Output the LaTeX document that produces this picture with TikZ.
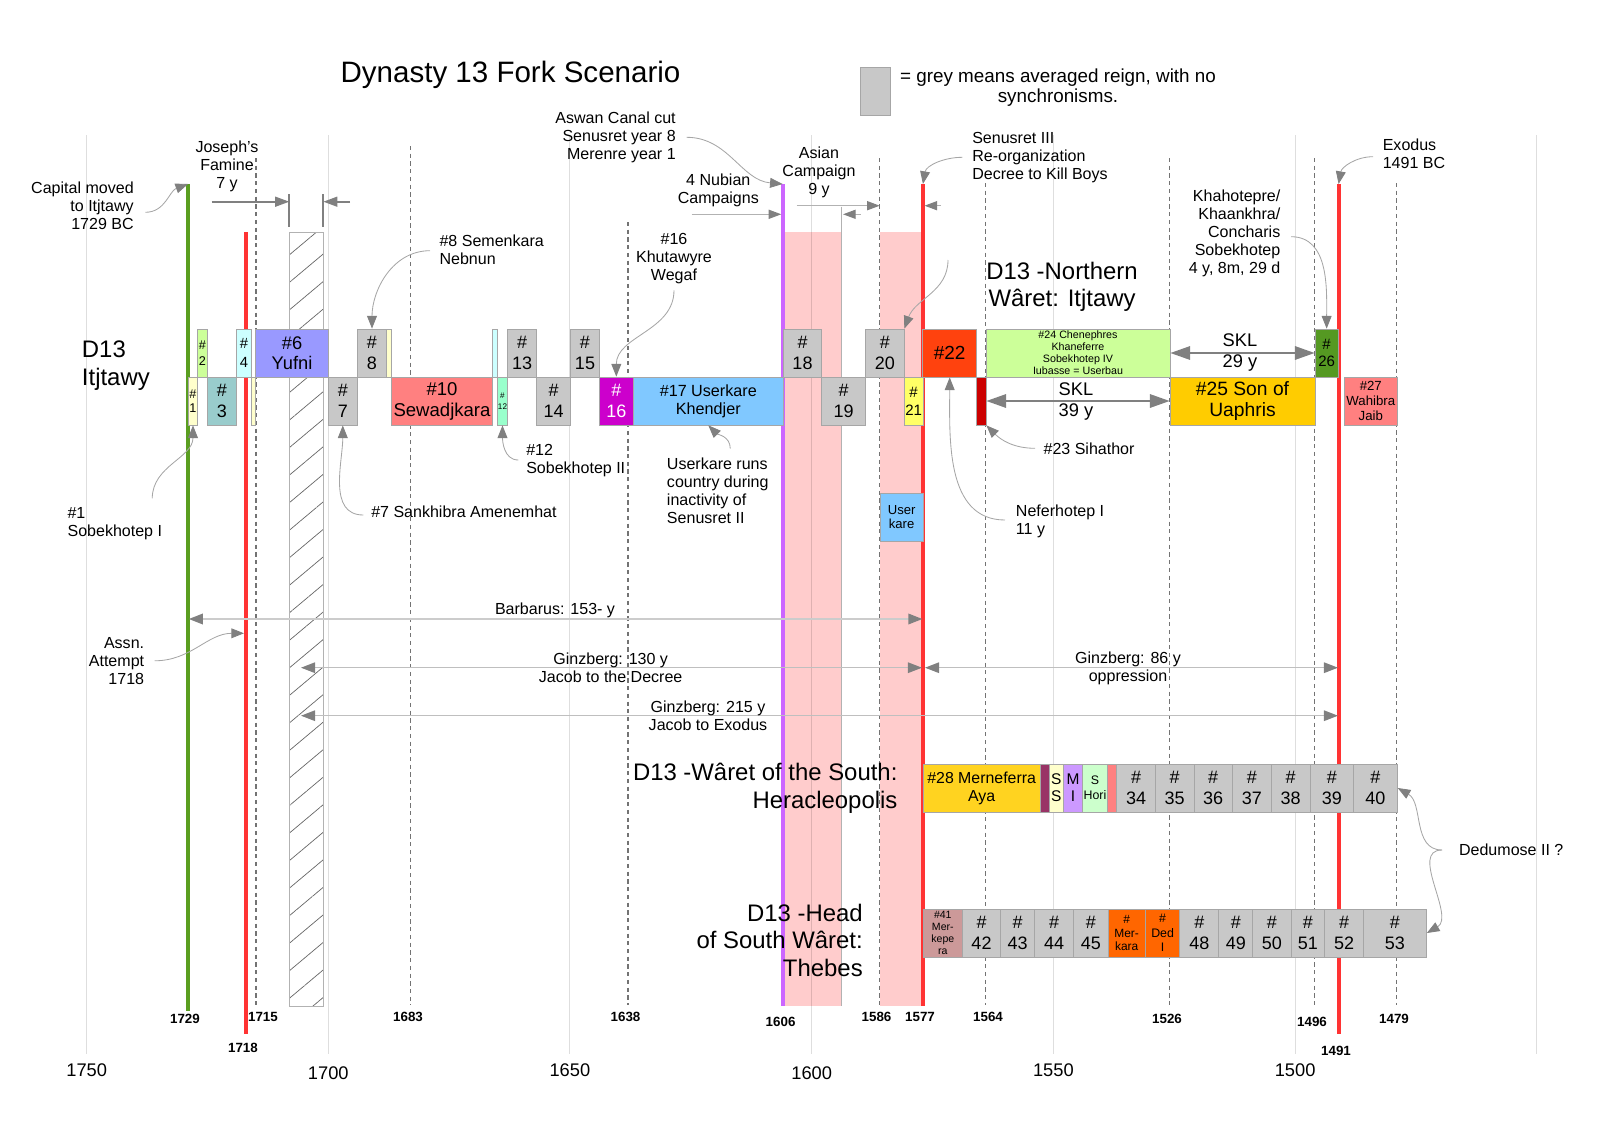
\documentclass[tikz,border=0pt]{standalone}
\usepackage{fontspec}
\setmainfont{Liberation Sans}
\usetikzlibrary{arrows.meta,patterns.meta}

\definecolor{avgrey}{HTML}{C8C8C8}
\definecolor{barred}{HTML}{FF3333}
\definecolor{bargreen}{HTML}{5A9E20}
\definecolor{barpurple}{HTML}{CC66FF}
\definecolor{barpink}{HTML}{FFCCCC}
\definecolor{palegreen}{HTML}{CCFF99}
\definecolor{palecyan}{HTML}{CCFFFF}
\definecolor{paleyellow}{HTML}{FFFFCC}
\definecolor{periwinkle}{HTML}{9999FF}
\definecolor{flame}{HTML}{FF420E}
\definecolor{leafgreen}{HTML}{559922}
\definecolor{tealgrey}{HTML}{99CCCC}
\definecolor{salmon}{HTML}{FF8080}
\definecolor{mint}{HTML}{99FFCC}
\definecolor{fuchsia}{HTML}{CC00CC}
\definecolor{skyblue}{HTML}{80C8FF}
\definecolor{lemon}{HTML}{FFFF66}
\definecolor{darkred}{HTML}{CC0000}
\definecolor{amber}{HTML}{FFCC00}
\definecolor{gold}{HTML}{FFD320}
\definecolor{plum}{HTML}{993366}
\definecolor{lilac}{HTML}{CC99FF}
\definecolor{mintgreen}{HTML}{CCFFCC}
\definecolor{rosybrown}{HTML}{CC9999}
\definecolor{tangerine}{HTML}{FF6600}

\tikzset{
  fs/.style 2 args={font=\fontsize{#1}{#2}\selectfont},
  reign/.style={draw=black!35, line width=0.5pt, inner sep=0pt, align=center, minimum height=1.2cm, fs={12.8}{14.5}},
  note/.style={inner sep=0pt, fs={11.4}{12.8}},
  region/.style={inner sep=0pt, fs={17}{19.5}},
  yearlab/.style={inner sep=0pt, font=\fontsize{9.5}{11}\selectfont\bfseries},
  axislab/.style={inner sep=0pt, fs={13}{15}},
  gridln/.style={draw=black, draw opacity=0.13, line width=0.7pt},
  dashln/.style={draw=black!55, line width=1pt, dash pattern=on 3pt off 2.5pt},
  vbar/.style={draw=#1, line width=2.8pt},
  link/.style={draw=black!35, line width=0.6pt, -{Triangle[length=9pt,width=7pt,color=black!50]}},
  span/.style={draw=black!50, line width=1.3pt, -{Triangle[length=10pt,width=7pt]}},
  thinspan/.style={draw=black!30, line width=0.8pt, -{Triangle[length=9pt,width=6.5pt,color=black!50]}},
  period/.style={draw=black!25, line width=0.9pt, {Triangle[length=10pt,width=7.5pt,color=black!50]}-{Triangle[length=10pt,width=7.5pt,color=black!50]}},
  skl/.style={draw=black!50, line width=1.4pt, {Triangle[length=14pt,width=9.5pt]}-{Triangle[length=14pt,width=9.5pt]}},
}
% reign box: [options]{name}{left}{right}{row centre}{fill}{text}
\newcommand{\reign}[7][]{\node[reign,fill=#6,minimum width={(#4-#3)*0.025cm},#1] (#2) at ({(#3+#4)/2},#5) {#7};}

\begin{document}
\begin{tikzpicture}[x=0.025cm,y=-0.025cm]
  \useasboundingbox (0,0) rectangle (1600,1131);
  % campaign bars
  \fill[barpink] (782.7,232) rectangle (841.7,1006);
  \fill[barpink] (880,232) rectangle (922.9,1006);
  % every 50 years
  \draw[gridln] (86.6,135)--(86.6,1054); \draw[gridln] (328.3,135)--(328.3,1054);
  \draw[gridln] (569.9,135)--(569.9,1054); \draw[gridln] (811.7,135)--(811.7,1054);
  \draw[gridln] (1053.4,135)--(1053.4,1054); \draw[gridln] (1295.1,135)--(1295.1,1054);
  \draw[gridln] (1536.8,135)--(1536.8,1054);
  % dated years
  \draw[dashln] (255.8,158)--(255.8,1005); \draw[dashln] (410.5,146)--(410.5,1005);
  \draw[dashln] (628,222)--(628,1005); \draw[dashln] (879.7,158)--(879.7,1005);
  \draw[dashln] (985.7,183)--(985.7,1005); \draw[dashln] (1169.4,158)--(1169.4,1005);
  \draw[dashln] (1314.4,158)--(1314.4,1005); \draw[dashln] (1396.6,183)--(1396.6,1005);
  % famine
  \draw[draw=black!30,line width=0.6pt,pattern={Lines[angle=40,distance=15pt,line width=0.5pt]},pattern color=black!60] (289.3,232) rectangle (323.3,1006);
  \draw[black!30,line width=0.6pt] (841.7,206.7)--(841.7,1006);
  % event lines
  \draw[vbar=bargreen] (188.1,184)--(188.1,1011);
  \draw[vbar=barred] (246,232)--(246,1034);
  \draw[vbar=barpurple] (782.7,184)--(782.7,1006);
  \draw[vbar=barred] (922.9,184)--(922.9,1006);
  \draw[vbar=barred] (1338.6,184)--(1338.6,1034);
  \coordinate (captop) at (188.1,184); \coordinate (nubtop) at (782.7,184);
  \coordinate (senutop) at (922.9,184); \coordinate (exotop) at (1338.6,184);
  \coordinate (assnpt) at (244,633.3); \coordinate (loose) at (948,260);

  % D13 Itjtawy, upper row
  \reign[fs={9}{11.5}]{k2}{197.7}{207.3}{353}{palegreen}{\#\\2}
  \reign[fs={10.5}{13}]{k4}{236.7}{251.3}{353}{palecyan}{\#\\4}
  \reign[fs={13}{14.5}]{k6}{255.7}{328.3}{353}{periwinkle}{\#6\\Yufni}
  \reign{k8}{357.3}{386.7}{353}{avgrey}{\#\\8}
  \reign{k9}{386.7}{391.3}{353}{paleyellow}{}
  \reign{k11}{492.7}{497.3}{353}{palecyan}{}
  \reign{k13}{507.7}{536.7}{353}{avgrey}{\#\\13}
  \reign{k15}{570.7}{599.3}{353}{avgrey}{\#\\15}
  \reign{k18}{783.3}{821.7}{353}{avgrey}{\#\\18}
  \reign{k20}{865.7}{904}{353}{avgrey}{\#\\20}
  \reign[fs={13.5}{15}]{k22}{922.7}{976.7}{353}{flame}{\#22}
  \reign[fs={7.6}{8.6}]{k24}{986}{1170}{353}{palegreen}{\#24 Chenephres\\Khaneferre\\Sobekhotep IV\\Iubasse = Userbau}
  \reign[fs={10.7}{12.6}]{k26}{1315}{1338.3}{353}{leafgreen}{\#\\26}
  % D13 Itjtawy, lower row
  \reign[fs={9}{10}]{k1}{188.3}{197.7}{401}{paleyellow}{\#\\1}
  \reign{k3}{207.3}{236.7}{401}{tealgrey}{\#\\3}
  \reign{k5}{251.3}{255.7}{401}{paleyellow}{}
  \reign{k7}{328.3}{357.3}{401}{avgrey}{\#\\7}
  \reign[fs={13.2}{15}]{k10}{391.3}{492.7}{401}{salmon}{\#10\\Sewadjkara}
  \reign[fs={5.8}{7.8}]{k12}{497.3}{507.7}{401}{mint}{\#\\12}
  \reign{k14}{536.7}{570.7}{401}{avgrey}{\#\\14}
  \reign[text=white]{k16}{599.3}{633.3}{401}{fuchsia}{\#\\16}
  \reign[fs={11.5}{12.6}]{k17}{633.3}{783.3}{401}{skyblue}{\#17 Userkare\\Khendjer}
  \reign{k19}{821.7}{865.7}{401}{avgrey}{\#\\19}
  \reign[fs={10.7}{12.6}]{k21}{904}{923.3}{401}{lemon}{\#\\21}
  \reign{k23}{976.7}{986}{401}{darkred}{}
  \reign[fs={13.7}{15}]{k25}{1170}{1315}{401}{amber}{\#25 Son of\\Uaphris}
  \reign[fs={9.4}{10.5}]{k27}{1344.3}{1397.3}{401}{salmon}{\#27\\Wahibra\\Jaib}
  \reign[fs={9.3}{10.4}]{ku}{880}{923.3}{517}{skyblue}{User\\kare}
  % Heracleopolis row
  \reign[fs={11.3}{12.8}]{k28}{923.3}{1040}{788}{gold}{\#28 Merneferra\\Aya}
  \reign{k29}{1040}{1049.3}{788}{plum}{}
  \reign[fs={11}{12.3}]{k30}{1049.3}{1063.3}{788}{paleyellow}{S\\S}
  \reign[fs={11}{12.3}]{k31}{1063.3}{1082.6}{788}{lilac}{M\\I}
  \reign[fs={8.8}{10.7}]{k32}{1082.6}{1107.2}{788}{mintgreen}{S\\Hori}
  \reign{k33}{1107.2}{1116.7}{788}{salmon}{}
  \reign{k34}{1116.7}{1155.3}{788}{avgrey}{\#\\34}
  \reign{k35}{1155.3}{1193.9}{788}{avgrey}{\#\\35}
  \reign{k36}{1193.9}{1232.5}{788}{avgrey}{\#\\36}
  \reign{k37}{1232.5}{1271}{788}{avgrey}{\#\\37}
  \reign{k38}{1271}{1310.4}{788}{avgrey}{\#\\38}
  \reign{k39}{1310.4}{1353.5}{788}{avgrey}{\#\\39}
  \reign{k40}{1353.5}{1397.4}{788}{avgrey}{\#\\40}
  % Thebes row
  \reign[fs={7.5}{8.5}]{k41}{923.3}{962.3}{933}{rosybrown}{\#41\\Mer-\\kepe\\ra}
  \reign{k42}{962.3}{1000.7}{933}{avgrey}{\#\\42}
  \reign{k43}{1000.7}{1034.7}{933}{avgrey}{\#\\43}
  \reign{k44}{1034.7}{1073.7}{933}{avgrey}{\#\\44}
  \reign{k45}{1073.7}{1107.9}{933}{avgrey}{\#\\45}
  \reign[fs={8.5}{9.5}]{k46}{1107.9}{1145.4}{933}{tangerine}{\#\\Mer-\\kara}
  \reign[fs={8.8}{10.3}]{k47}{1145.4}{1179.8}{933}{tangerine}{\#\\Ded\\I}
  \reign{k48}{1179.8}{1218.8}{933}{avgrey}{\#\\48}
  \reign{k49}{1218.8}{1252.8}{933}{avgrey}{\#\\49}
  \reign{k50}{1252.8}{1291}{933}{avgrey}{\#\\50}
  \reign{k51}{1291}{1324.7}{933}{avgrey}{\#\\51}
  \reign{k52}{1324.7}{1363.3}{933}{avgrey}{\#\\52}
  \reign{k53}{1363.3}{1426.5}{933}{avgrey}{\#\\53}

  % title and legend
  \node[inner sep=0pt,fs={21}{25}] (title) at (510.5,74.5) {Dynasty 13 Fork Scenario};
  \node[draw=black!35,fill=avgrey,minimum width=0.75cm,minimum height=1.2cm,inner sep=0pt] (legendbox) at (875,91) {};
  \node[inner sep=0pt,fs={13.4}{14.6},align=center] (legend) at (1058,87.8) {= grey means averaged reign, with no\\synchronisms.};
  % region names
  \node[region,align=left,anchor=west] (itj) at (81.7,365.5) {D13\\Itjtawy};
  \node[region,align=center] (north) at (1062,286.7) {D13 -Northern\\Wâret: Itjtawy};
  \node[region,align=right,anchor=east] (south) at (897.7,788.4) {D13 -Wâret of the South:\\Heracleopolis};
  \node[region,align=right,anchor=east] (thebes) at (863,940.1) {D13 -Head\\of South Wâret:\\Thebes};
  % notes
  \node[note,align=right,anchor=east] (capnote) at (134,205.7) {Capital moved\\to Itjtawy\\1729 BC};
  \node[note,align=center] (famine) at (227,166.7) {Joseph's\\Famine\\7 y};
  \node[note,align=right,anchor=east] (aswan) at (676,137.3) {Aswan Canal cut\\Senusret year 8\\Merenre year 1};
  \node[note,align=center] (nubia) at (718.3,190.5) {4 Nubian\\Campaigns};
  \node[note,align=center] (asia) at (819,172.4) {Asian\\Campaign\\9 y};
  \node[note,align=left,anchor=west] (senusret) at (972,157.3) {Senusret III\\Re-organization\\Decree to Kill Boys};
  \node[note,align=left,anchor=west] (exodus) at (1382.5,153.3) {Exodus\\1491 BC};
  \node[note,align=right,anchor=east] (khah) at (1280.6,233.1) {Khahotepre/\\Khaankhra/\\Concharis\\Sobekhotep\\4 y, 8m, 29 d};
  \node[note,align=left,anchor=west] (semen) at (439.3,249.9) {\#8 Semenkara\\Nebnun};
  \node[note,align=center] (khut) at (674,258.8) {\#16\\Khutawyre\\Wegaf};
  \node[note,align=left,anchor=west] (sob1) at (67.3,523.3) {\#1\\Sobekhotep I};
  \node[note,anchor=west] (sank) at (371,511.7) {\#7 Sankhibra Amenemhat};
  \node[note,align=left,anchor=west] (sob2) at (526,460.9) {\#12\\Sobekhotep II};
  \node[note,align=left,anchor=west] (userruns) at (666.7,490.8) {Userkare runs\\country during\\inactivity of\\Senusret II};
  \node[note,anchor=west] (sihathor) at (1043.3,448.3) {\#23 Sihathor};
  \node[note,align=left,anchor=west] (nefer) at (1015.7,520.9) {Neferhotep I\\11 y};
  \node[note,align=right,anchor=east] (assn) at (144.4,660.8) {Assn.\\Attempt\\1718};
  \node[note,anchor=west] (dedu) at (1458.8,850) {Dedumose II ?};
  \node[inner sep=0pt,fs={13}{14.8},align=center] (skl29) at (1240,352.4) {SKL\\29 y};
  \node[inner sep=0pt,fs={13}{14.8},align=center] (skl39) at (1076,401.2) {SKL\\39 y};

  % spans
  \coordinate (famtail) at (211.7,201.7); \coordinate (famA) at (289.3,201.7);
  \coordinate (famhead) at (350,201.7); \coordinate (famB) at (323.3,201.7);
  \draw[span] (famtail)--(famA); \draw[span] (famhead)--(famB);
  \draw[black!50,line width=1.3pt] (289.3,194)--(289.3,227.3); \draw[black!50,line width=1.3pt] (323.3,194)--(323.3,227.3);
  \coordinate (nubtail) at (691.7,214.3); \coordinate (nubA) at (781.3,214.3);
  \coordinate (nubend) at (860.7,214.3); \coordinate (nubB) at (843,214.3);
  \draw[thinspan] (nubtail)--(nubA); \draw[thinspan] (nubend)--(nubB);
  \coordinate (asiatail) at (796.7,205.7); \coordinate (asiaA) at (879.7,205.7);
  \coordinate (asiaend) at (941,205.7); \coordinate (asiaB) at (924.5,205.7);
  \draw[thinspan] (asiatail)--(asiaA); \draw[thinspan] (asiaend)--(asiaB);
  \draw[skl] (k24.east)--(k26.west); \draw[skl] (k23.east)--(k25.west);
  \coordinate (barbL) at (188.8,619); \coordinate (barbR) at (922.4,619);
  \coordinate (g130L) at (301,667.7); \coordinate (g130R) at (922,667.7);
  \coordinate (g86L) at (925,667.7); \coordinate (g86R) at (1338,667.7);
  \coordinate (g215L) at (301,715.7); \coordinate (g215R) at (1338,715.7);
  \draw[period,line width=1.2pt,draw=black!20] (barbL)--(barbR);
  \draw[period] (g130L)--(g130R); \draw[period] (g86L)--(g86R); \draw[period] (g215L)--(g215R);
  \node[note] (barb) at (555,610) {Barbarus: 153- y};
  \node[note,align=center] (g130) at (610.7,667.9) {Ginzberg: 130 y\\Jacob to the Decree};
  \node[note,align=center] (g86) at (1128,667.9) {Ginzberg: 86 y\\oppression};
  \node[note,align=center] (g215) at (708,715.5) {Ginzberg: 215 y\\Jacob to Exodus};

  % note links
  \draw[link] ([shift={(11.3,6.6)}]capnote.east) to[out=0,in=200] (captop);
  \draw[link] ([shift={(10.7,0)}]aswan.east) to[out=0,in=175] (nubtop);
  \draw[link] ([shift={(-9.6,0)}]senusret.west) to[out=180,in=80] (senutop);
  \draw[link] ([shift={(-9.5,3.4)}]exodus.west) to[out=180,in=80] (exotop);
  \draw[link] ([shift={(10.4,3.6)}]khah.east) to[out=0,in=90] (k26.north);
  \draw[link] ([shift={(-9.3,0.8)}]semen.west) to[out=180,in=90] (k8.north);
  \draw[link] ([shift={(0,6)}]khut.south) to[out=270,in=90] (k16.north);
  \draw[link] ([shift={(-10.1,-8.4)}]sob1.north east) to[out=90,in=270] (k1.south);
  \draw[link] ([shift={(-7.7,3.3)}]sank.west) to[out=180,in=270] (k7.south);
  \draw[link] ([shift={(-7.7,-0.9)}]sob2.west) to[out=180,in=270] (k12.south);
  \draw[link] ([shift={(12.5,-9.1)}]userruns.north) to[out=90,in=-45] (k17.south);
  \draw[link] ([shift={(-8.3,0)}]sihathor.west) to[out=180,in=-45] (k23.south east);
  \draw[link] ([shift={(-10.7,-0.9)}]nefer.west) to[out=180,in=270] (k22.south);
  \draw[link] (loose) to[out=270,in=70] (k20.north east);
  \draw[link] ([shift={(10.2,0)}]assn.east) to[out=0,in=180] (assnpt);
  \draw[link] ([shift={(-16.8,0)}]dedu.west) to[out=180,in=-30] (k40.east);
  \draw[link] ([shift={(-16.8,0)}]dedu.west) to[out=180,in=30] (k53.east);

  % years
  \node[yearlab] (y1729) at (185,1019) {1729}; \node[yearlab] (y1718) at (243,1048) {1718};
  \node[yearlab] (y1715) at (263,1017) {1715}; \node[yearlab] (y1683) at (408,1017) {1683};
  \node[yearlab] (y1638) at (625.5,1017) {1638}; \node[yearlab] (y1606) at (780.6,1022) {1606};
  \node[yearlab] (y1586) at (876.5,1017) {1586}; \node[yearlab] (y1577) at (920,1017) {1577};
  \node[yearlab] (y1564) at (988,1017) {1564}; \node[yearlab] (y1526) at (1167,1019) {1526};
  \node[yearlab] (y1496) at (1312,1022) {1496}; \node[yearlab] (y1491) at (1336,1051) {1491};
  \node[yearlab] (y1479) at (1394,1019) {1479};
  \node[axislab] (a1750) at (86.7,1070) {1750}; \node[axislab] (a1700) at (328.3,1073) {1700};
  \node[axislab] (a1650) at (569.9,1070) {1650}; \node[axislab] (a1600) at (811.7,1073) {1600};
  \node[axislab] (a1550) at (1053.4,1070) {1550}; \node[axislab] (a1500) at (1295.1,1070) {1500};
\end{tikzpicture}
\end{document}
